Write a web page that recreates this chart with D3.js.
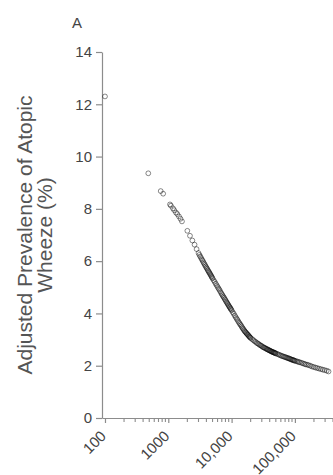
<!DOCTYPE html>
<html>
<head>
<meta charset="utf-8">
<script src="https://cdn.jsdelivr.net/npm/d3@7"></script>
<style>
  body { margin: 0; background: #fff; }
  svg { display: block; font-family: "Liberation Sans", Arial, sans-serif; }
</style>
</head>
<body>
<div id="chart"></div>
<script>
// community population (log x) vs adjusted prevalence (%)
const population = [
  100, 483, 759, 830, 1064, 1100, 1186, 1240, 1320, 1390, 1475, 1560, 1644,
  2000, 2200, 2400, 2600, 2800, 3000, 3100, 3200, 3300, 3400, 3500, 3600, 3700, 3800, 3900,
  4000, 4100, 4200, 4300, 4400, 4500, 4600, 4700, 4800, 4900, 5000,
  5200, 5400, 5600, 5800, 6000, 6200, 6400, 6600, 6800, 7000, 7200, 7400, 7600, 7800,
  8000, 8200, 8400, 8600, 8800, 9000, 9200, 9400, 9600, 9800, 10000,
  10400, 10800, 11200, 11600, 12000, 12400, 12800, 13200, 13600, 14000, 14400, 14800,
  15200, 15600, 16000, 16400, 16800, 17200, 17600, 18000, 18400, 18800, 19200, 19600, 20000,
  21000, 22000, 23000, 24000, 25000, 26000, 27000, 28000, 29000, 30000, 31000, 32000,
  33000, 34000, 35000, 36000, 37000, 38000, 39000, 40000, 41000, 42000, 43000, 44000,
  45000, 46000, 47000, 48000, 49000, 50000,
  52500, 55000, 57500, 60000, 62500, 65000, 67500, 70000, 72500, 75000, 77500, 80000,
  82500, 85000, 87500, 90000, 92500, 95000, 97500, 100000,
  105000, 110000, 115000, 120000, 127000, 134000, 141000, 148000, 156000, 165000,
  175000, 186000, 198000, 211000, 225000, 240000, 257000, 275000, 295000, 318000, 340000
];
const prevalence = [
  12.3, 9.36, 8.68, 8.58, 8.17, 8.12, 8.02, 7.95, 7.86, 7.80, 7.71, 7.62, 7.52,
  7.16, 6.97, 6.79, 6.63, 6.46, 6.31, 6.24, 6.18, 6.12, 6.06, 6.01, 5.95, 5.90, 5.85, 5.80,
  5.75, 5.71, 5.66, 5.62, 5.58, 5.54, 5.50, 5.46, 5.42, 5.38, 5.34,
  5.27, 5.21, 5.14, 5.08, 5.02, 4.96, 4.91, 4.85, 4.79, 4.74, 4.69, 4.64, 4.60, 4.55,
  4.51, 4.46, 4.42, 4.38, 4.34, 4.30, 4.26, 4.23, 4.19, 4.16, 4.12,
  4.05, 3.99, 3.92, 3.86, 3.80, 3.75, 3.69, 3.64, 3.59, 3.55, 3.50, 3.45,
  3.41, 3.37, 3.33, 3.30, 3.27, 3.24, 3.21, 3.19, 3.16, 3.13, 3.11, 3.08, 3.06,
  3.02, 2.98, 2.94, 2.91, 2.87, 2.85, 2.82, 2.79, 2.77, 2.75, 2.72, 2.70,
  2.69, 2.67, 2.65, 2.64, 2.62, 2.61, 2.59, 2.58, 2.57, 2.55, 2.54, 2.53,
  2.52, 2.51, 2.50, 2.49, 2.48, 2.47,
  2.45, 2.43, 2.41, 2.39, 2.37, 2.36, 2.34, 2.33, 2.32, 2.30, 2.29, 2.28,
  2.27, 2.25, 2.24, 2.23, 2.22, 2.21, 2.20, 2.19,
  2.17, 2.16, 2.14, 2.13, 2.11, 2.09, 2.07, 2.05, 2.04, 2.02,
  2.00, 1.97, 1.95, 1.93, 1.91, 1.89, 1.87, 1.85, 1.83, 1.81, 1.78
];
const yTicks = [0, 2, 4, 6, 8, 10, 12, 14];
const xMajor = [100, 1000, 10000, 100000];
const xLabels = ["100", "1000", "10,000", "100,000"];
const panelLabel = "A";
const yTitle = ["Adjusted Prevalence of Atopic", "Wheeze (%)"];

const width = 333, height = 475;
const axisColor = "#8c8c8c", textColor = "#444";

const svg = d3.select("#chart").append("svg")
  .attr("width", width)
  .attr("height", height);

const x = d3.scaleLog()
  .domain([89.7, 1000000])
  .range([102, 358.2]);

const y = d3.scaleLinear()
  .domain([0, 14])
  .range([418, 52]);

// y axis
const yAxis = svg.append("g")
  .attr("transform", "translate(102,0)")
  .call(d3.axisLeft(y).tickValues(yTicks).tickSize(6).tickSizeOuter(0).tickPadding(4));
yAxis.select(".domain").attr("stroke", axisColor).attr("stroke-width", 1.2);
yAxis.selectAll(".tick line").attr("stroke", axisColor).attr("stroke-width", 1.2);
yAxis.selectAll(".tick text")
  .attr("fill", textColor)
  .style("font-size", "15px")
  .style("font-family", "Liberation Sans, Arial, sans-serif");

// x axis with log minor ticks
const minor = [];
xMajor.forEach(m => { for (let k = 2; k <= 9; k++) if (m * k < 1000000) minor.push(m * k); });

const xAxis = svg.append("g")
  .attr("transform", "translate(0,418)")
  .call(d3.axisBottom(x).tickValues(xMajor).tickSize(5).tickSizeOuter(0).tickFormat(""));
xAxis.select(".domain").attr("stroke", axisColor).attr("stroke-width", 1.2);
xAxis.selectAll(".tick line").attr("stroke", axisColor).attr("stroke-width", 1.2);

svg.append("g")
  .selectAll("line")
  .data(minor)
  .join("line")
    .attr("x1", d => x(d)).attr("x2", d => x(d))
    .attr("y1", 418).attr("y2", 422)
    .attr("stroke", axisColor)
    .attr("stroke-width", 1.1);

svg.append("g")
  .selectAll("text")
  .data(xMajor)
  .join("text")
    .attr("transform", d => `translate(${x(d) + 2},437) rotate(-45)`)
    .attr("text-anchor", "end")
    .attr("fill", textColor)
    .style("font-size", "15px")
    .text((d, i) => xLabels[i]);

// points
svg.append("g")
  .selectAll("circle")
  .data(population.map((p, i) => ({ p, v: prevalence[i] })))
  .join("circle")
    .attr("cx", d => x(d.p))
    .attr("cy", d => y(d.v))
    .attr("r", 2.4)
    .attr("fill", "none")
    .attr("stroke", "#000")
    .attr("stroke-opacity", 0.55)
    .attr("stroke-width", 0.85);

// y title
svg.append("text")
  .attr("transform", "translate(32,235) rotate(-90)")
  .attr("text-anchor", "middle")
  .attr("fill", "#555")
  .style("font-size", "21px")
  .selectAll("tspan")
  .data(yTitle)
  .join("tspan")
    .attr("x", 0)
    .attr("dy", (d, i) => i === 0 ? 0 : 20)
    .text(d => d);

// panel label
svg.append("text")
  .attr("x", 72)
  .attr("y", 28)
  .attr("fill", textColor)
  .style("font-size", "15px")
  .text(panelLabel);
</script>
</body>
</html>
